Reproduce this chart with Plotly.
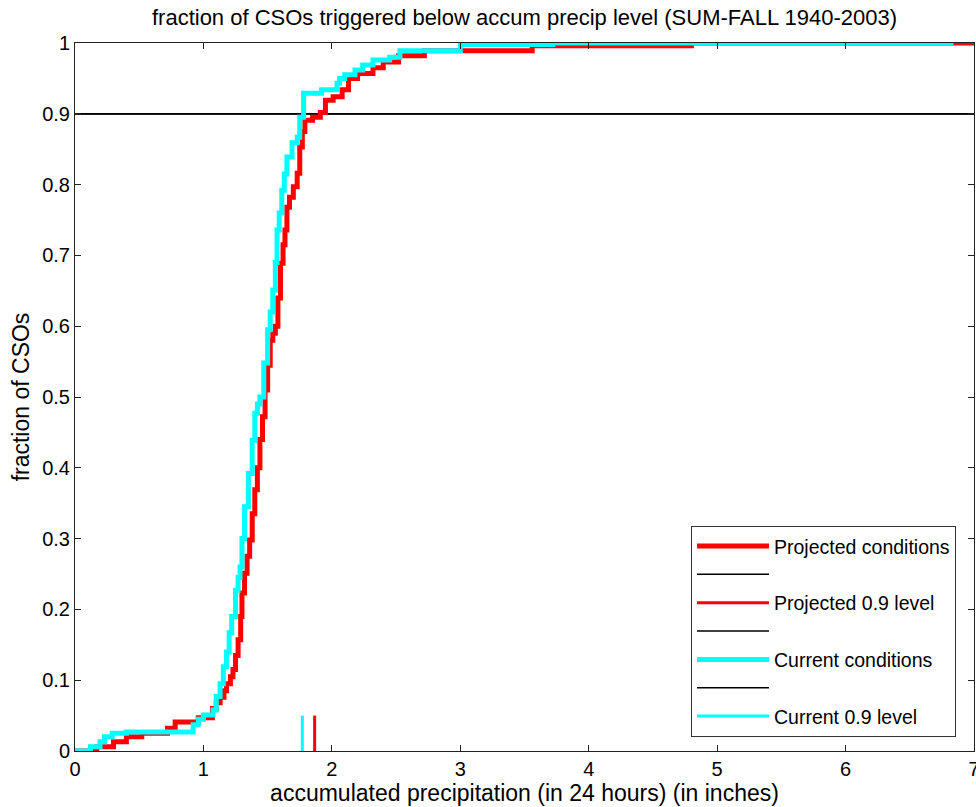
import plotly.graph_objects as go

# Projected conditions (step CDF)
proj_x = [0, 0.17, 0.30, 0.40, 0.52, 0.72, 0.78, 0.96, 1.07, 1.10, 1.13, 1.16, 1.18, 1.21, 1.23,
          1.25, 1.27, 1.29, 1.30, 1.32, 1.34, 1.36, 1.38, 1.40, 1.42, 1.44, 1.46, 1.48, 1.50, 1.52,
          1.54, 1.56, 1.58, 1.60, 1.62, 1.635, 1.65, 1.67, 1.70, 1.73, 1.75, 1.77, 1.79, 1.85, 1.91,
          1.95, 2.01, 2.08, 2.13, 2.20, 2.32, 2.40, 2.52, 2.72, 3.56, 4.80, 7.2]
proj_y = [0, 0.006, 0.013, 0.020, 0.025, 0.032, 0.041, 0.047, 0.060, 0.068, 0.076, 0.085, 0.095,
          0.105, 0.115, 0.135, 0.157, 0.190, 0.223, 0.251, 0.275, 0.298, 0.335, 0.369, 0.400, 0.440,
          0.472, 0.51, 0.545, 0.58, 0.59, 0.60, 0.64, 0.689, 0.715, 0.736, 0.768, 0.782, 0.797,
          0.816, 0.853, 0.875, 0.891, 0.895, 0.902, 0.919, 0.924, 0.934, 0.950, 0.957, 0.965,
          0.973, 0.982, 0.989, 0.996, 1.0, 1.0]

# Current conditions (step CDF)
curr_x = [0, 0.12, 0.195, 0.23, 0.29, 0.40, 0.92, 0.96, 1.0, 1.075, 1.10, 1.13, 1.155, 1.18, 1.20,
          1.22, 1.25, 1.27, 1.285, 1.30, 1.32, 1.35, 1.38, 1.40, 1.42, 1.44, 1.47, 1.50, 1.52, 1.54,
          1.56, 1.573, 1.59, 1.61, 1.63, 1.65, 1.69, 1.73, 1.75, 1.78, 1.92, 2.04, 2.06, 2.10, 2.18,
          2.24, 2.32, 2.45, 2.53, 3.00, 3.72, 6.84]
curr_y = [0, 0.006, 0.013, 0.020, 0.025, 0.027, 0.037, 0.045, 0.051, 0.058, 0.077, 0.095, 0.119,
          0.14, 0.167, 0.19, 0.227, 0.245, 0.26, 0.30, 0.345, 0.392, 0.439, 0.477, 0.49, 0.50,
          0.548, 0.595, 0.62, 0.651, 0.69, 0.736, 0.76, 0.792, 0.815, 0.839, 0.859, 0.867, 0.895,
          0.929, 0.934, 0.943, 0.950, 0.955, 0.962, 0.969, 0.976, 0.980, 0.989, 0.998, 1.0, 1.0]

level = 0.9
level_x_range = [0, 7.2]
proj_level_x = 1.866
curr_level_x = 1.77
marker_y = [0, 0.05]

x_ticks = [0, 1, 2, 3, 4, 5, 6, 7]
y_ticks = [0, 0.1, 0.2, 0.3, 0.4, 0.5, 0.6, 0.7, 0.8, 0.9, 1]
y_tick_text = ["0", "0.1", "0.2", "0.3", "0.4", "0.5", "0.6", "0.7", "0.8", "0.9", "1"]

FONT = "Liberation Sans, Arial, Helvetica, sans-serif"

fig = go.Figure()

# black 0.9 lines (unnamed legend entries), drawn first
for rank in (2, 4, 6):
    fig.add_trace(go.Scatter(x=level_x_range, y=[level, level], mode="lines",
                             line=dict(color="black", width=1.5), name=" ",
                             legendrank=rank, showlegend=True, hoverinfo="skip"))

fig.add_trace(go.Scatter(x=proj_x, y=proj_y, mode="lines", line_shape="hv",
                         line=dict(color="#ff0000", width=5), name="Projected conditions",
                         legendrank=1))
fig.add_trace(go.Scatter(x=[proj_level_x, proj_level_x], y=marker_y, mode="lines",
                         line=dict(color="#ff0000", width=3), name="Projected 0.9 level",
                         legendrank=3))
fig.add_trace(go.Scatter(x=curr_x, y=curr_y, mode="lines", line_shape="hv",
                         line=dict(color="#00ffff", width=5), name="Current conditions",
                         legendrank=5))
fig.add_trace(go.Scatter(x=[curr_level_x, curr_level_x], y=marker_y, mode="lines",
                         line=dict(color="#00ffff", width=3), name="Current 0.9 level",
                         legendrank=7))

axis_common = dict(showline=True, linecolor="#222", linewidth=1, mirror="ticks",
                   ticks="inside", ticklen=6, tickcolor="#222", showgrid=False,
                   zeroline=False, automargin=False, ticklabeloverflow="allow",
                   tickfont=dict(family=FONT, size=20, color="black"))

fig.update_layout(
    width=976, height=807,
    margin=dict(l=75, r=2, t=43, b=56),
    paper_bgcolor="white", plot_bgcolor="white",
    title=dict(text="fraction of CSOs triggered below accum precip level (SUM-FALL 1940-2003)",
               x=0.5374, xanchor="center", y=0.978, yanchor="middle",
               font=dict(family=FONT, size=22, color="black")),
    xaxis=dict(range=[0, 7], tickvals=x_ticks,
               title=dict(text="accumulated precipitation (in 24 hours) (in inches)",
                          font=dict(family=FONT, size=23, color="black"), standoff=2),
               **axis_common),
    yaxis=dict(range=[0, 1], tickvals=y_ticks, ticktext=y_tick_text,
               title=dict(text="fraction of CSOs", font=dict(family=FONT, size=23, color="black"),
                          standoff=6),
               **axis_common),
    legend=dict(x=0.98, y=0.02, xanchor="right", yanchor="bottom",
                bgcolor="white", bordercolor="#333", borderwidth=1, itemwidth=72,
                font=dict(family=FONT, size=19.5, color="black"), traceorder="normal"),
    showlegend=True,
)

fig.write_html("out.html", config={"displayModeBar": False},
               post_script="document.body.style.margin='0';document.body.style.overflow='hidden';")
